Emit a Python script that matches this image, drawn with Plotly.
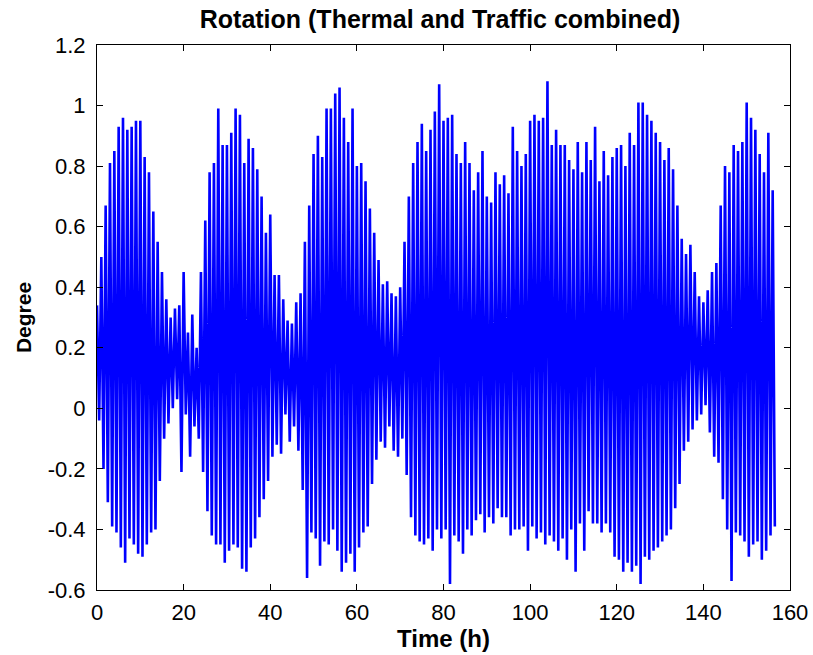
import plotly.graph_objects as go

# Hourly time stamps (h)
hours = list(range(0, 157))

# Upper envelope (peak rotation in each hour, degrees)
upper = [
    0.34, 0.50, 0.67, 0.81, 0.85, 0.93, 0.96, 0.92, 0.93, 0.95,
    0.95, 0.83, 0.78, 0.65, 0.55, 0.45, 0.36, 0.30, 0.33, 0.34,
    0.45, 0.25, 0.31, 0.20, 0.45, 0.62, 0.78, 0.81, 0.99, 0.87,
    0.87, 0.91, 0.99, 0.97, 0.81, 0.89, 0.86, 0.79, 0.70, 0.58,
    0.64, 0.44, 0.44, 0.36, 0.29, 0.28, 0.35, 0.38, 0.55, 0.67,
    0.84, 0.90, 0.83, 0.99, 0.99, 1.04, 1.06, 0.96, 0.88, 0.99,
    0.80, 0.81, 0.75, 0.66, 0.58, 0.49, 0.41, 0.42, 0.38, 0.37,
    0.40, 0.55, 0.70, 0.81, 0.88, 0.94, 0.85, 0.92, 0.98, 1.07,
    0.95, 0.96, 0.97, 0.84, 0.81, 0.88, 0.81, 0.72, 0.78, 0.85,
    0.70, 0.68, 0.78, 0.74, 0.77, 0.71, 0.93, 0.85, 0.80, 0.84,
    0.95, 0.97, 0.95, 0.96, 1.08, 0.87, 0.92, 0.87, 0.87, 0.82,
    0.79, 0.88, 0.78, 0.88, 0.82, 0.93, 0.75, 0.85, 0.77, 0.83,
    0.86, 0.87, 0.80, 0.91, 0.87, 1.01, 1.01, 0.97, 0.95, 0.91,
    0.88, 0.82, 0.86, 0.79, 0.67, 0.56, 0.51, 0.54, 0.45, 0.37,
    0.35, 0.39, 0.45, 0.48, 0.67, 0.80, 0.78, 0.87, 0.85, 0.88,
    1.01, 0.96, 0.92, 0.84, 0.78, 0.91, 0.72,
]

# Lower envelope (trough rotation in each hour, degrees)
lower = [
    -0.04, -0.20, -0.31, -0.39, -0.41, -0.46, -0.51, -0.43, -0.45, -0.48,
    -0.49, -0.45, -0.41, -0.40, -0.24, -0.10, -0.05, 0.00, 0.03, -0.21,
    -0.02, -0.16, -0.06, -0.10, -0.21, -0.34, -0.42, -0.45, -0.45, -0.51,
    -0.47, -0.45, -0.46, -0.53, -0.54, -0.46, -0.43, -0.36, -0.30, -0.24,
    -0.16, -0.12, -0.15, -0.02, -0.11, -0.06, -0.14, -0.27, -0.56, -0.41,
    -0.43, -0.52, -0.44, -0.45, -0.40, -0.47, -0.54, -0.51, -0.48, -0.54,
    -0.46, -0.41, -0.39, -0.25, -0.17, -0.11, -0.13, -0.06, -0.14, -0.16,
    -0.10, -0.22, -0.36, -0.42, -0.44, -0.45, -0.43, -0.47, -0.40, -0.43,
    -0.40, -0.58, -0.42, -0.44, -0.48, -0.40, -0.42, -0.37, -0.35, -0.41,
    -0.36, -0.38, -0.33, -0.36, -0.36, -0.42, -0.40, -0.40, -0.39, -0.47,
    -0.39, -0.43, -0.41, -0.45, -0.42, -0.44, -0.47, -0.43, -0.50, -0.40,
    -0.54, -0.38, -0.47, -0.34, -0.38, -0.38, -0.41, -0.38, -0.41, -0.49,
    -0.50, -0.54, -0.51, -0.54, -0.52, -0.58, -0.49, -0.50, -0.47, -0.46,
    -0.44, -0.42, -0.40, -0.33, -0.25, -0.14, -0.11, -0.07, -0.04, -0.02,
    0.01, -0.08, -0.16, -0.18, -0.30, -0.40, -0.57, -0.41, -0.42, -0.44,
    -0.49, -0.45, -0.44, -0.50, -0.47, -0.42, -0.39,
]

x_ticks = [0, 20, 40, 60, 80, 100, 120, 140, 160]
y_ticks = [-0.6, -0.4, -0.2, 0, 0.2, 0.4, 0.6, 0.8, 1.0, 1.2]
y_tick_text = ["-0.6", "-0.4", "-0.2", "0", "0.2", "0.4", "0.6", "0.8", "1", "1.2"]

# Interleave peaks and troughs: peak at start of hour, trough half an hour later
xs, ys = [], []
for h, u, l in zip(hours, upper, lower):
    xs += [h, h + 0.5]
    ys += [u, l]

fig = go.Figure()
fig.add_trace(go.Scatter(x=xs, y=ys, mode="lines",
                         line=dict(color="#0000FF", width=2.6),
                         showlegend=False, hoverinfo="skip"))

W, H = 813, 655
font_family = "Liberation Sans, Arial, sans-serif"
fig.update_layout(
    width=W, height=H,
    margin=dict(l=97, r=23, t=45, b=65, autoexpand=False),
    paper_bgcolor="white", plot_bgcolor="white",
    font=dict(family=font_family, color="black", size=22),
    title=dict(text="<b>Rotation (Thermal and Traffic combined)</b>",
               x=0.495, xref="paper", y=1 - 19 / H, yref="container",
               yanchor="middle", xanchor="center", automargin=False,
               font=dict(size=25, family=font_family, color="black")),
)
fig.update_xaxes(range=[0, 160], tickvals=x_ticks,
                 ticktext=[str(v) for v in x_ticks],
                 showgrid=False, zeroline=False, automargin=False,
                 showline=True, linecolor="black", linewidth=1, mirror="ticks",
                 ticks="inside", ticklen=6, tickcolor="black", tickwidth=1,
                 tickfont=dict(size=22), ticklabelstandoff=3,
                 title=dict(text="<b>Time (h)</b>", standoff=0,
                            font=dict(size=24)))
fig.update_yaxes(range=[-0.6, 1.2], tickvals=y_ticks, ticktext=y_tick_text,
                 showgrid=False, zeroline=False, automargin=False,
                 showline=True, linecolor="black", linewidth=1, mirror="ticks",
                 ticks="inside", ticklen=6, tickcolor="black", tickwidth=1,
                 tickfont=dict(size=22), ticklabelstandoff=6,
                 title=dict(text="<b>Degree</b>", standoff=10,
                            font=dict(size=21)))

# Remove the browser's default 8px body margin so the figure fills the window
fig.write_html("out.html",
               config={"displayModeBar": False, "staticPlot": True},
               post_script="document.body.style.margin='0';"
                           "document.body.style.overflow='hidden';")
